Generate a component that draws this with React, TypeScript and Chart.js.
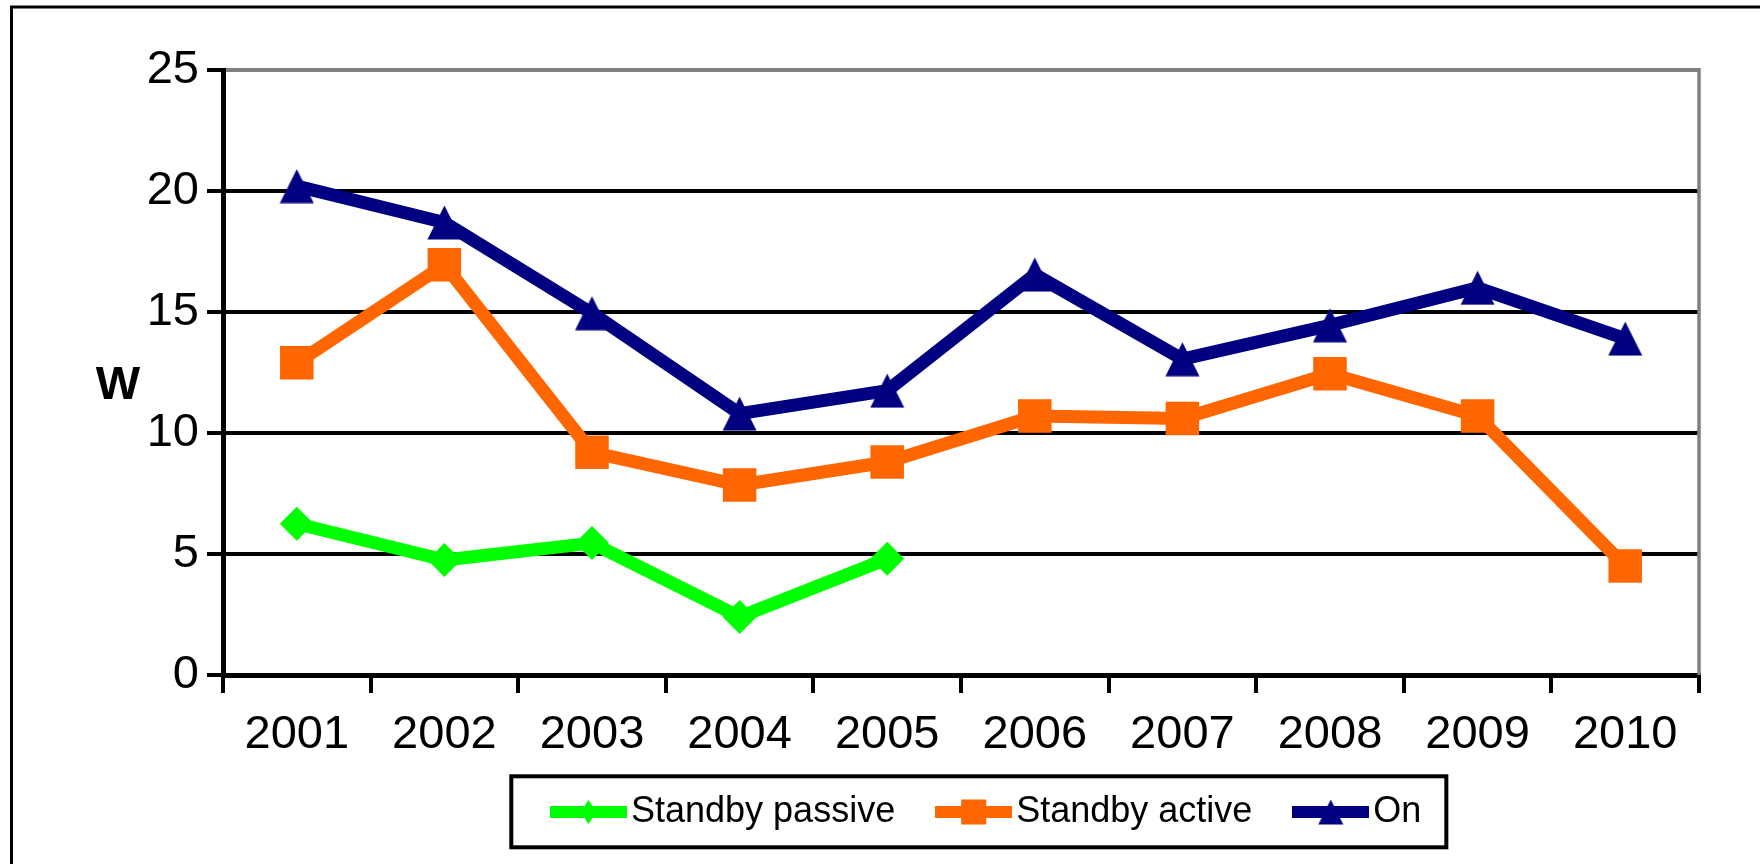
import React, { useEffect, useRef } from 'react';
import { Chart, registerables } from 'chart.js';

Chart.register(...registerables);

const categories = ['2001', '2002', '2003', '2004', '2005', '2006', '2007', '2008', '2009', '2010'];
const standbyPassive = [6.25, 4.75, 5.45, 2.4, 4.8, null, null, null, null, null];
const standbyActive = [12.9, 16.95, 9.2, 7.85, 8.8, 10.7, 10.6, 12.45, 10.7, 4.5];
const onMode = [20.2, 18.7, 14.95, 10.8, 11.75, 16.55, 13.05, 14.45, 16.0, 13.9];
const seriesNames = ['Standby passive', 'Standby active', 'On'];
const yTicks = [0, 5, 10, 15, 20, 25];
const axisUnit = 'W';

const GREEN = '#00FF00';
const ORANGE = '#FF6600';
const NAVY = '#000080';
const FONT = "'Liberation Sans', Arial, Helvetica, sans-serif";

function makeCanvas(w: number, h: number, draw: (ctx: CanvasRenderingContext2D) => void) {
  const c = document.createElement('canvas');
  c.width = w;
  c.height = h;
  const ctx = c.getContext('2d')!;
  draw(ctx);
  return c;
}

function triangleMarker(color: string) {
  return makeCanvas(35, 35, (ctx) => {
    ctx.fillStyle = color;
    ctx.beginPath();
    ctx.moveTo(17.5, 0.5);
    ctx.lineTo(34.5, 34.5);
    ctx.lineTo(0.5, 34.5);
    ctx.closePath();
    ctx.fill();
  });
}

function legendKey(color: string, marker: 'diamond' | 'square' | 'triangle') {
  return makeCanvas(77, 26, (ctx) => {
    ctx.fillStyle = color;
    ctx.fillRect(0, 7, 77, 12);
    ctx.beginPath();
    if (marker === 'diamond') {
      ctx.moveTo(30.5, 13);
      ctx.lineTo(38.5, 1);
      ctx.lineTo(46.5, 13);
      ctx.lineTo(38.5, 25);
      ctx.closePath();
    } else if (marker === 'square') {
      ctx.rect(26, 0.5, 25, 25);
    } else {
      ctx.moveTo(38.5, 0.5);
      ctx.lineTo(51, 25.5);
      ctx.lineTo(26, 25.5);
      ctx.closePath();
    }
    ctx.fill();
  });
}

const decorPlugin = {
  id: 'decor',
  afterLayout(chart: any) {
    const lg = chart.legend;
    if (lg) {
      lg.left = 510;
      lg.top = 740;
      lg.bottom = 740 + lg.height;
    }
  },
  beforeDraw(chart: any) {
    const ctx = chart.ctx;
    ctx.save();
    ctx.strokeStyle = '#000';
    ctx.lineWidth = 3;
    ctx.beginPath();
    ctx.moveTo(11.5, 864);
    ctx.lineTo(11.5, 7);
    ctx.lineTo(1760, 7);
    ctx.stroke();
    ctx.restore();
  },
  afterDraw(chart: any) {
    const ctx = chart.ctx;
    const area = chart.chartArea;
    ctx.save();
    // right plot border (gray)
    ctx.strokeStyle = '#808080';
    ctx.lineWidth = 3.5;
    ctx.beginPath();
    ctx.moveTo(area.right, area.top - 2);
    ctx.lineTo(area.right, area.bottom);
    ctx.stroke();
    // legend frame
    const lg = chart.legend;
    if (lg && lg.legendHitBoxes && lg.legendHitBoxes.length) {
      const hb = lg.legendHitBoxes;
      const first = hb[0];
      const last = hb[hb.length - 1];
      const cy = first.top + first.height / 2;
      const x0 = lg.left + 1.3;
      const x1 = last.left + last.width + 25;
      ctx.strokeStyle = '#000';
      ctx.lineWidth = 4;
      ctx.strokeRect(x0, cy - 35.7, x1 - x0, 71);
    }
    // unit label
    ctx.fillStyle = '#000';
    ctx.font = `bold 47px ${FONT}`;
    ctx.textAlign = 'center';
    ctx.textBaseline = 'middle';
    ctx.fillText(axisUnit, 118, 386);
    ctx.restore();
  },
};

export default function App() {
  const ref = useRef<HTMLCanvasElement | null>(null);

  useEffect(() => {
    if (!ref.current) return;
    Chart.defaults.font.family = FONT;
    const keys = [legendKey(GREEN, 'diamond'), legendKey(ORANGE, 'square'), legendKey(NAVY, 'triangle')];
    const colors = [GREEN, ORANGE, NAVY];

    const chart = new Chart(ref.current, {
      type: 'line',
      data: {
        labels: categories,
        datasets: [
          {
            label: seriesNames[0],
            data: standbyPassive,
            borderColor: GREEN,
            backgroundColor: GREEN,
            borderWidth: 13,
            borderJoinStyle: 'round',
            pointStyle: 'rectRot',
            pointRadius: 17,
            pointBorderWidth: 0,
            pointBackgroundColor: GREEN,
            spanGaps: false,
            order: 3,
          },
          {
            label: seriesNames[1],
            data: standbyActive,
            borderColor: ORANGE,
            backgroundColor: ORANGE,
            borderWidth: 13,
            borderJoinStyle: 'round',
            pointStyle: 'rect',
            pointRadius: 23.7,
            pointBorderWidth: 0,
            pointBackgroundColor: ORANGE,
            order: 2,
          },
          {
            label: seriesNames[2],
            data: onMode,
            borderColor: NAVY,
            backgroundColor: NAVY,
            borderWidth: 13,
            borderJoinStyle: 'round',
            pointStyle: triangleMarker(NAVY),
            pointRadius: 18,
            pointBorderWidth: 0,
            order: 1,
          },
        ] as any,
      },
      options: {
        animation: false,
        responsive: false,
        maintainAspectRatio: false,
        devicePixelRatio: 1,
        layout: { padding: { left: 0, right: 61, top: 70, bottom: 0 } },
        plugins: {
          tooltip: { enabled: false },
          title: { display: false },
          legend: {
            display: true,
            position: 'bottom',
            align: 'start',
            labels: {
              usePointStyle: true,
              pointStyleWidth: 49,
              padding: 54,
              color: '#000',
              font: { size: 36, family: FONT },
              generateLabels: () =>
                seriesNames.map((name, i) => ({
                  text: name,
                  pointStyle: keys[i],
                  fillStyle: colors[i],
                  strokeStyle: colors[i],
                  lineWidth: 0,
                  hidden: false,
                  datasetIndex: i,
                })),
            },
          },
        },
        scales: {
          x: {
            type: 'category',
            offset: true,
            grid: {
              display: true,
              offset: true,
              drawOnChartArea: false,
              drawTicks: true,
              tickLength: 18,
              color: '#000',
              tickColor: '#000',
              lineWidth: 4,
            },
            border: { display: true, color: '#000', width: 5 },
            ticks: {
              color: '#000',
              padding: 14,
              maxRotation: 0,
              autoSkip: false,
              font: { size: 47, family: FONT },
            },
            afterFit: (scale: any) => {
              scale.height = 89;
            },
          },
          y: {
            min: 0,
            max: 25,
            afterBuildTicks: (scale: any) => {
              scale.ticks = yTicks.map((v) => ({ value: v }));
            },
            grid: {
              display: true,
              drawTicks: true,
              tickLength: 16,
              color: (c: any) => (c.tick && c.tick.value === 25 ? '#808080' : '#000'),
              tickColor: '#000',
              lineWidth: 4,
            },
            border: { display: true, color: '#000', width: 5 },
            ticks: {
              color: '#000',
              padding: 8,
              font: { size: 47, family: FONT },
            },
            afterFit: (scale: any) => {
              scale.width = 223;
            },
          },
        },
      } as any,
      plugins: [decorPlugin as any],
    });

    return () => chart.destroy();
  }, []);

  return (
    <div style={{ position: 'fixed', left: 0, top: 0, width: 1760, height: 864, background: '#fff' }}>
      <canvas ref={ref} width={1760} height={864} style={{ display: 'block', width: 1760, height: 864 }} />
    </div>
  );
}
